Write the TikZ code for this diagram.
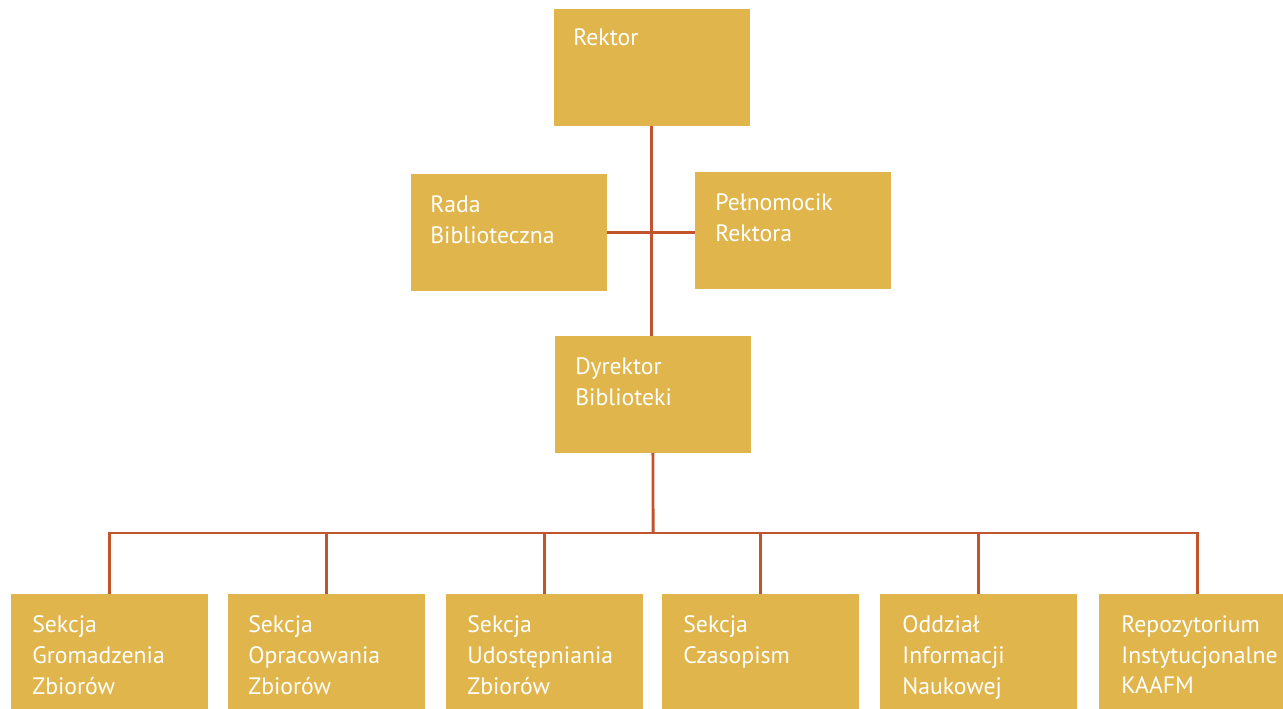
\documentclass[tikz,border=0pt]{standalone}
\usepackage{fontspec}
\setmainfont{PT Sans}
\usepackage{tikz}

\definecolor{boxgold}{HTML}{E0B54B}
\definecolor{linkrust}{HTML}{C1542D}

\tikzset{
  unit/.style={fill=boxgold, minimum width=3.92cm, minimum height=2.34cm,
               inner sep=0pt, outer sep=0pt, anchor=north west},
  section/.style={unit, minimum width=3.94cm},
  unittext/.style={text=white, align=left, anchor=north west, inner sep=0pt,
                   font=\fontsize{13.5}{17.6}\selectfont},
  link/.style={draw=linkrust, line width=1.7pt},
}

\begin{document}
\begin{tikzpicture}[x=0.02cm, y=-0.02cm]
        \useasboundingbox (0,0) rectangle (1283,709);
        % top part
        \node [unit] (rektor) at (554,9)   {};                                        %Rektor
        \node [unittext] (rektor-t) at ([shift={(19,19)}]rektor.north west) {Rektor};
        \node [unit] (rada)   at (411,174) {};                                        %Rada
        \node [unittext] (rada-t) at ([shift={(19,21)}]rada.north west) {Rada\\Biblioteczna};
        \node [unit] (pelnom) at (695,172) {};                                        %Pelnomocik
        \node [unittext] (pelnom-t) at ([shift={(20,21)}]pelnom.north west) {Pełnomocik\\Rektora};
        \node [unit] (dyrektor) at (555,336) {};                                      %Dyrektor
        \node [unittext] (dyrektor-t) at ([shift={(20,21)}]dyrektor.north west) {Dyrektor\\Biblioteki};
        % sections
        \node [section] (gromadz) at (11,594)   {};
        \node [unittext] (gromadz-t) at ([shift={(21,21)}]gromadz.north west) {Sekcja\\Gromadzenia\\Zbiorów};
        \node [section] (opracow) at (228,594)  {};
        \node [unittext] (opracow-t) at ([shift={(20,21)}]opracow.north west) {Sekcja\\Opracowania\\Zbiorów};
        \node [section] (udostep) at (446,594)  {};
        \node [unittext] (udostep-t) at ([shift={(21,21)}]udostep.north west) {Sekcja\\Udostępniania\\Zbiorów};
        \node [section] (czasop)  at (662,594)  {};
        \node [unittext] (czasop-t) at ([shift={(21,21)}]czasop.north west) {Sekcja\\Czasopism};
        \node [section] (oddzial) at (880,594)  {};
        \node [unittext] (oddzial-t) at ([shift={(22,21)}]oddzial.north west) {Oddział\\Informacji\\Naukowej};
        \node [section] (repo)    at (1099,594) {};
        \node [unittext] (repo-t) at ([shift={(22,21)}]repo.north west) {Repozytorium\\Instytucjonalne\\KAAFM};
        % links
        \draw [link] (rektor.south) -- (rektor.south |- dyrektor.north);
        \draw [link] (rada.east) -- (rada.east -| pelnom.west);
        \coordinate (bus) at (653,533);
        \draw [link] (dyrektor.south) -- (bus);
        \draw [link] (bus) -| (gromadz.north);
        \draw [link] (bus) -| (opracow.north);
        \draw [link] (bus) -| (udostep.north);
        \draw [link] (bus) -| (czasop.north);
        \draw [link] (bus) -| (oddzial.north);
        \draw [link] (bus) -| (repo.north);
\end{tikzpicture}
\end{document}
